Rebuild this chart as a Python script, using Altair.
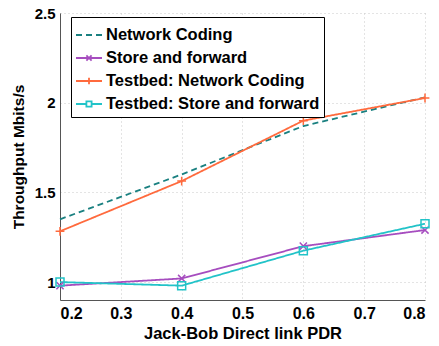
import altair as alt
import pandas as pd

pdr = [0.2, 0.4, 0.6, 0.8]
series_names = ["Network Coding", "Store and forward",
                "Testbed: Network Coding", "Testbed: Store and forward"]
nc_model = [1.35, 1.60, 1.87, 2.03]
sf_model = [0.98, 1.02, 1.20, 1.29]
nc_testbed = [1.283, 1.563, 1.90, 2.026]
sf_testbed = [1.00, 0.98, 1.175, 1.325]
colors = ["#1a8080", "#a64dbf", "#ff6a3d", "#22c3c8"]
y_ticks = [1, 1.5, 2, 2.5]
x_ticks = [0.2, 0.3, 0.4, 0.5, 0.6, 0.7, 0.8]

rows = []
for name, vals in zip(series_names, [nc_model, sf_model, nc_testbed, sf_testbed]):
    for x, y in zip(pdr, vals):
        rows.append({"pdr": x, "thr": y, "series": name})
df = pd.DataFrame(rows)

marker_paths = {"Store and forward": "M-0.9,-0.9L0.9,0.9M-0.9,0.9L0.9,-0.9",
                "Testbed: Network Coding": "M-1.1,0L1.1,0M0,-1.1L0,1.1",
                "Testbed: Store and forward": "M-1,-1L1,-1L1,1L-1,1Z"}
legend_paths = ["M-1,0L1,0",
                "M-1,0L1,0M-0.2,-0.2L0.2,0.2M-0.2,0.2L0.2,-0.2",
                "M-1,0L1,0M0,-0.25L0,0.25",
                "M-1,0L-0.2,0M0.2,0L1,0M-0.2,-0.2L0.2,-0.2L0.2,0.2L-0.2,0.2Z"]

font = "Liberation Sans"
x_enc = alt.X("pdr:Q", scale=alt.Scale(domain=[0.2, 0.8], nice=False),
              axis=alt.Axis(values=x_ticks, format=".1f", title="Jack-Bob Direct link PDR",
                            titleFontSize=16.5, labelFontSize=16))
y_enc = alt.Y("thr:Q", scale=alt.Scale(domain=[0.9, 2.5], nice=False, zero=False),
              axis=alt.Axis(values=y_ticks, format="~g", title="Throughput Mbits/s",
                            titleFontSize=15.5, labelFontSize=15))
color_scale = alt.Scale(domain=series_names, range=colors)
dash_scale = alt.Scale(domain=series_names, range=[[6, 4], [1, 0], [1, 0], [1, 0]])

legend_cfg = alt.Legend(title=None, orient="none", legendX=11, legendY=4,
                        symbolOpacity=1, symbolSize=676, symbolStrokeWidth=1.8,
                        labelFontSize=16.5, labelFont=font, labelFontWeight="bold",
                        labelColor="black", labelOffset=3, padding=4,
                        rowPadding=0, strokeColor="black", fillColor="white",
                        labelLimit=400)

base = alt.Chart(df)

legend_layer = base.mark_point(filled=False, opacity=0, size=676, strokeWidth=1.8).encode(
    x=x_enc, y=y_enc,
    color=alt.Color("series:N", scale=color_scale, legend=legend_cfg),
    strokeDash=alt.StrokeDash("series:N", scale=dash_scale, legend=legend_cfg),
    shape=alt.Shape("series:N", scale=alt.Scale(domain=series_names, range=legend_paths),
                    legend=legend_cfg),
)

lines = base.mark_line(strokeWidth=1.8).encode(
    x=x_enc, y=y_enc,
    color=alt.Color("series:N", scale=color_scale),
    strokeDash=alt.StrokeDash("series:N", scale=dash_scale),
)

marker_layers = []
for name, path in marker_paths.items():
    marker_layers.append(
        base.transform_filter(alt.datum.series == name).mark_point(
            filled=False, strokeWidth=1.5, size=64, opacity=1, shape=path).encode(
            x=x_enc, y=y_enc,
            color=alt.Color("series:N", scale=color_scale),
        )
    )

chart = alt.layer(legend_layer, lines, *marker_layers).properties(
    width=365, height=287,
    autosize=alt.AutoSizeParams(type="none"),
    padding={"left": 60, "top": 13, "right": 14, "bottom": 46},
).configure_view(stroke=None).configure_axis(
    labelFont=font, labelFontWeight="bold", labelColor="black",
    titleFont=font, titleFontWeight="bold", titleColor="black",
    grid=True, gridColor="#c8c8c8", gridDash=[1, 3], gridWidth=1,
    domainColor="#555555", ticks=False, labelPadding=5,
).configure_axisY(titlePadding=8).configure_axisX(titlePadding=4)

chart.save("out.html", embed_options={"renderer": "svg", "actions": False})
